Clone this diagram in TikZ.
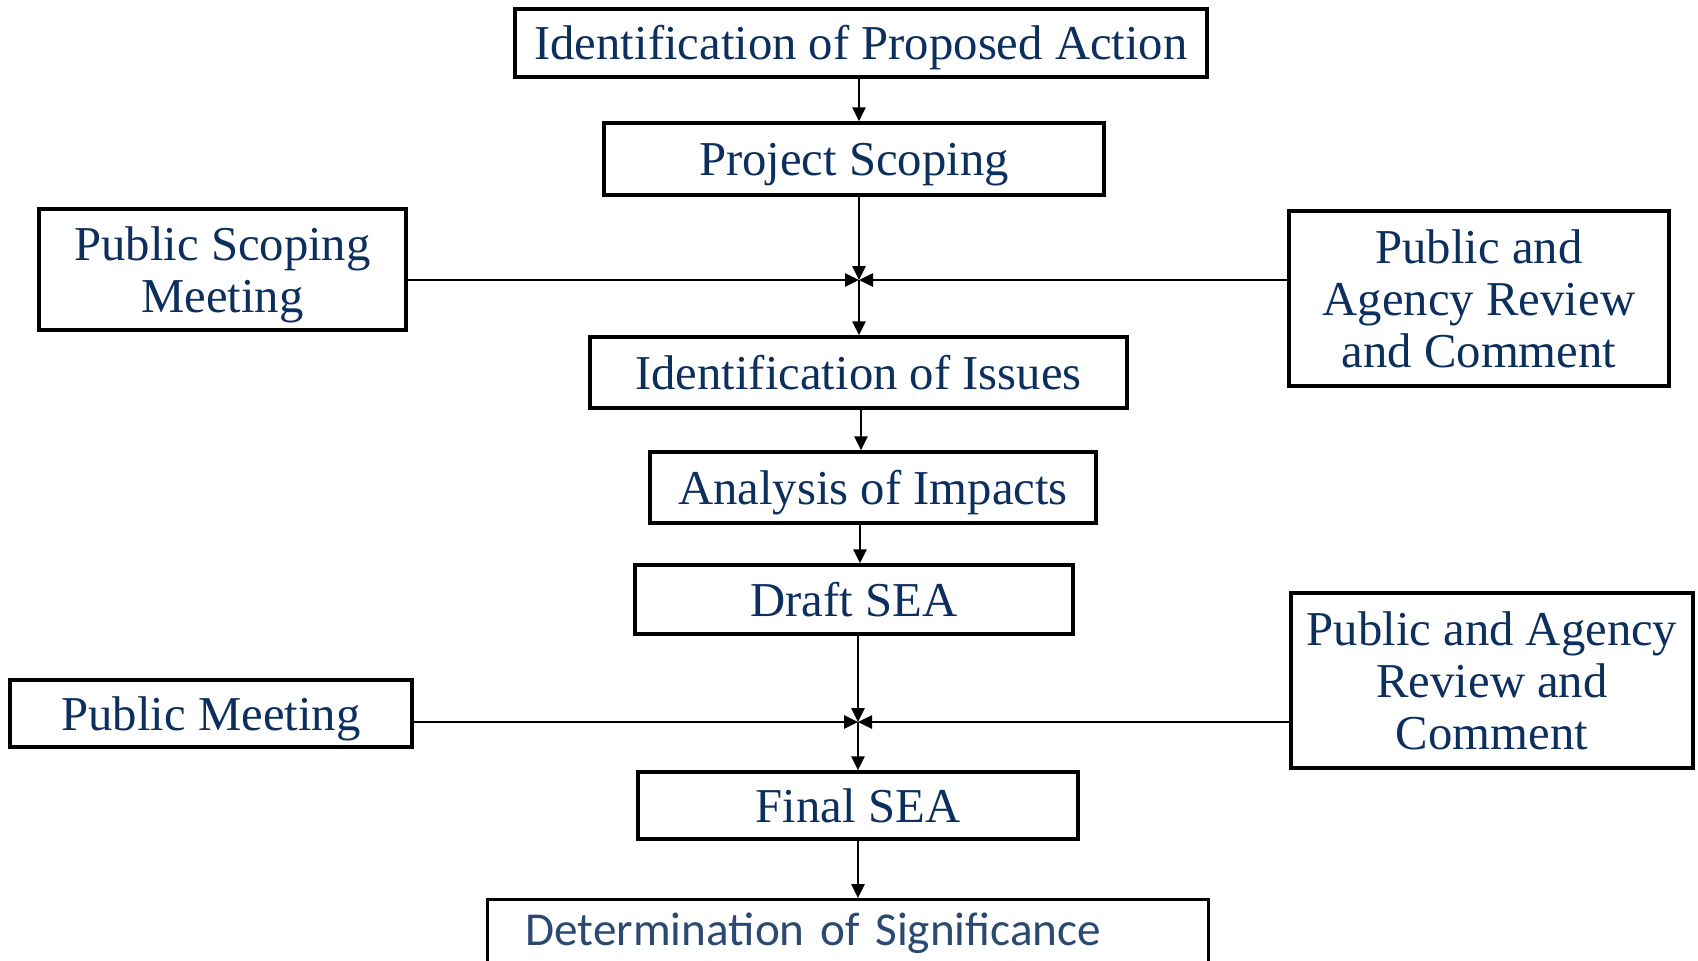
\documentclass[tikz,border=0pt]{standalone}
\usepackage{fontspec}
\setmainfont{Liberation Serif}
\newfontfamily\labelsans{Carlito}
\usetikzlibrary{arrows.meta}
\definecolor{navytext}{HTML}{0C2F5E}
\definecolor{slatetext}{HTML}{2B4A72}
\begin{document}
\begin{tikzpicture}[x=1bp,y=-1bp,
  box/.style={draw=black, line width=3.3bp, fill=white, inner sep=0pt,
    align=center, text=navytext, text depth=0bp, font=\fontsize{48.7bp}{52bp}\selectfont},
  single/.style={text height=33bp},
  flow/.style={line width=2.6bp, -{Triangle[length=14bp,width=13bp]}},
]
\useasboundingbox (0,0) rectangle (1698,960);
\clip (0,0) rectangle (1698,960);

% main column
\node[box, single, minimum width=692bp, minimum height=68bp] (act) at (861,43) {Identification of Proposed Action};
\node[box, single, minimum width=500bp, minimum height=72bp] (scope) at (854,159) {Project Scoping};
\node[box, single, minimum width=537bp, minimum height=71bp] (issues) at (858.5,372.5) {Identification of Issues};
\node[box, single, minimum width=446bp, minimum height=71bp] (impacts) at (873,487.5) {Analysis of Impacts};
\node[box, single, minimum width=438bp, minimum height=69bp] (draft) at (854,599.5) {Draft SEA};
\node[box, single, minimum width=440bp, minimum height=67bp] (final) at (858,805.5) {Final SEA};
\node[box, text height=26.5bp, anchor=north west, minimum width=721bp, minimum height=66bp, text width=645bp,
  align=left, text=slatetext, font=\labelsans\fontsize{47.2bp}{52bp}\selectfont] (signif) at (486,898) {Determination of Significance};

% side inputs
\node[box, minimum width=367bp, minimum height=121bp] (pubscope) at (222.5,269.5) {Public Scoping\\Meeting};
\node[box, minimum width=380bp, minimum height=175bp] (review1) at (1479,298.5) {Public and\\Agency Review\\and Comment};
\node[box, single, minimum width=402bp, minimum height=67bp] (pubmeet) at (211,713.5) {Public Meeting};
\node[box, minimum width=402bp, minimum height=175bp] (review2) at (1492,680.5) {Public and Agency\\Review and\\Comment};

% junction points
\coordinate (j1) at (859,280);
\coordinate (j2) at (858,722);

% connectors
\draw[flow] (act.south -| j1) -- (scope.north -| j1);
\draw[flow] (scope.south -| j1) -- (j1);
\draw[flow] (pubscope.east |- j1) -- (j1);
\draw[flow] (review1.west |- j1) -- (j1);
\draw[flow] (j1) -- (issues.north -| j1);
\draw[flow] ([xshift=2bp]issues.south -| j1) -- ([xshift=2bp]impacts.north -| j1);
\draw[flow] ([xshift=1bp]impacts.south -| j1) -- ([xshift=1bp]draft.north -| j1);
\draw[flow] ([yshift=4bp]draft.south -| j2) -- (j2);
\draw[flow] (pubmeet.east |- j2) -- (j2);
\draw[flow] (review2.west |- j2) -- (j2);
\draw[flow] (j2) -- (final.north -| j2);
\draw[flow] (final.south -| j2) -- (signif.north -| j2);
\end{tikzpicture}
\end{document}
